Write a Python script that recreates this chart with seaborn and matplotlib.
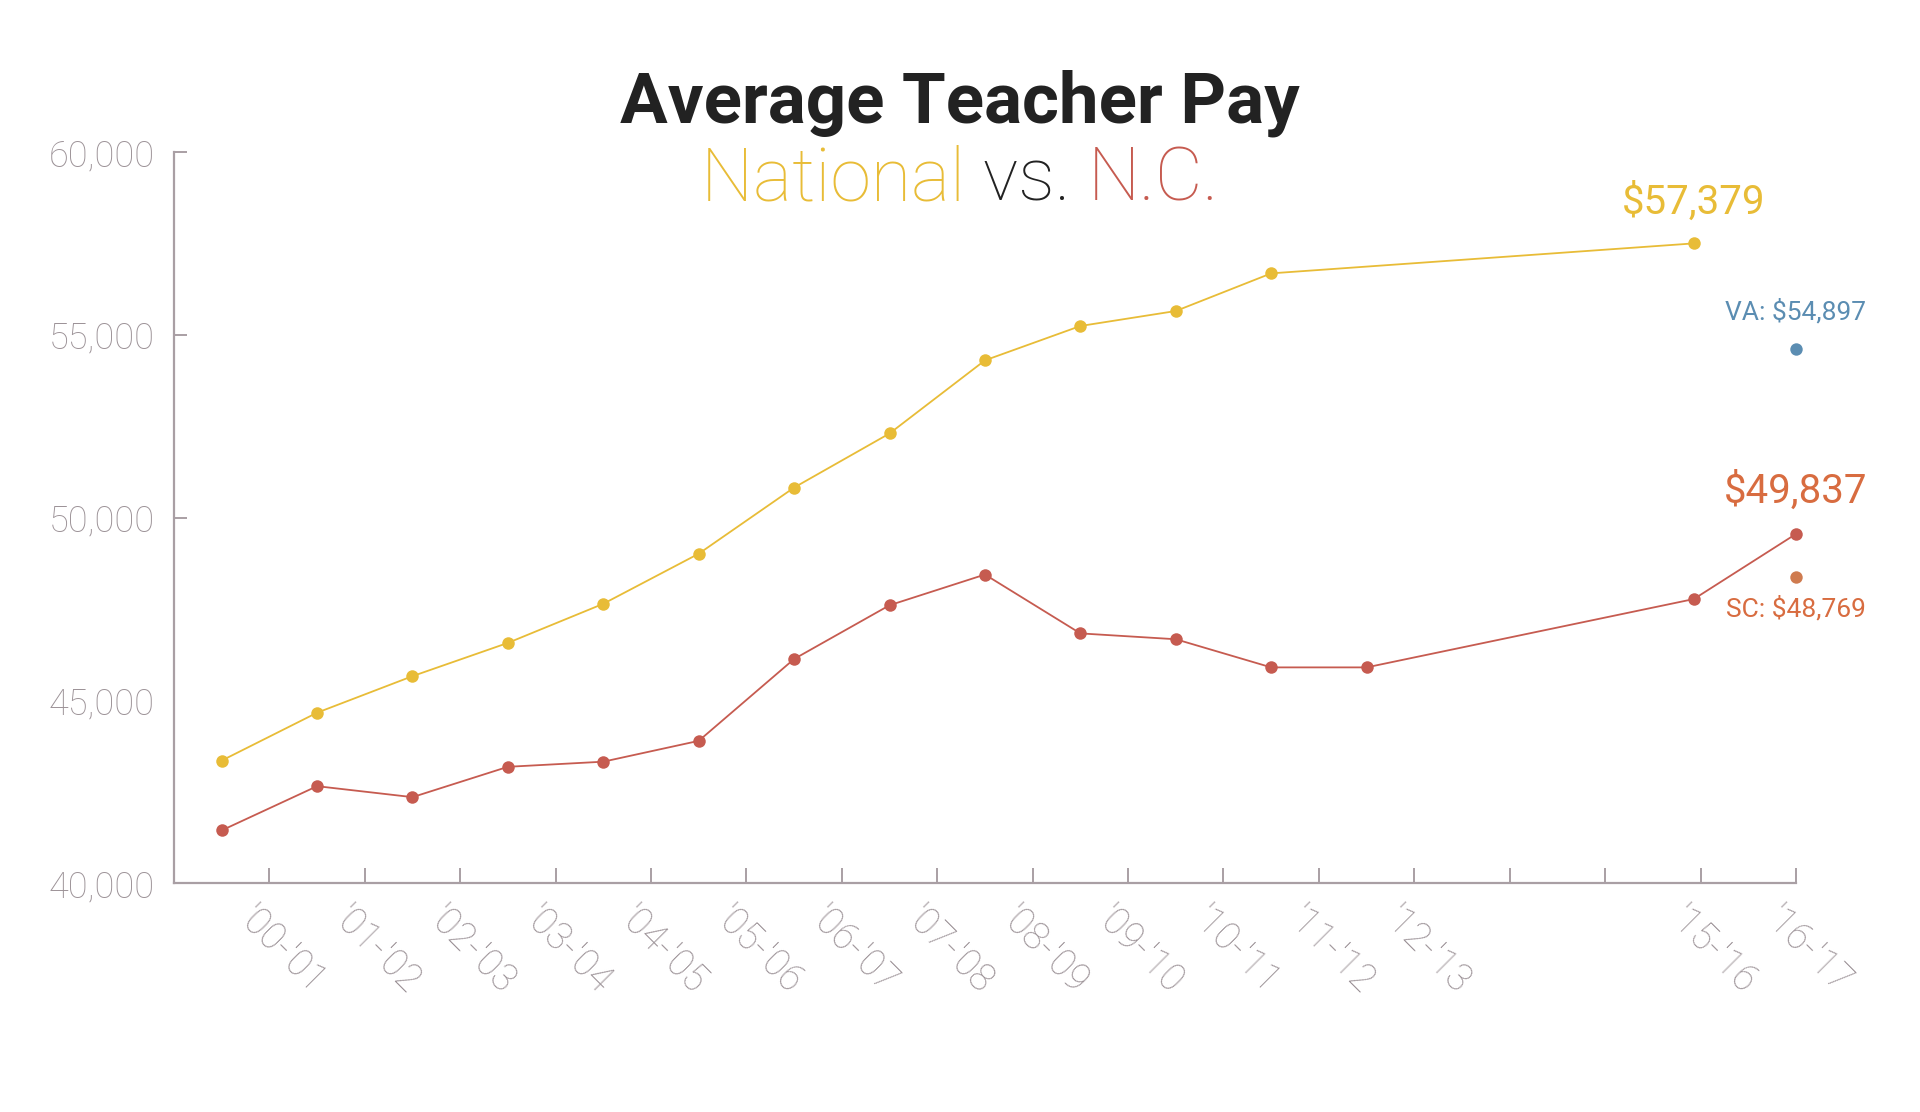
import numpy as np
import pandas as pd
import matplotlib
matplotlib.use("Agg")
import matplotlib.pyplot as plt
import matplotlib.transforms as mtransforms
import seaborn as sns
from matplotlib.offsetbox import TextArea, HPacker, AnchoredOffsetbox

# ============================================================
# Data
# ============================================================

tick_labels = ["'00-'01", "'01-'02", "'02-'03", "'03-'04", "'04-'05", "'05-'06",
               "'06-'07", "'07-'08", "'08-'09", "'09-'10", "'10-'11", "'11-'12",
               "'12-'13", "", "", "'15-'16", "'16-'17"]

# position of each season on the x axis (seasons 13/14 are missing in the source)
nat_x = [0.5, 1.5, 2.5, 3.5, 4.5, 5.5, 6.5, 7.5, 8.5, 9.5, 10.5, 11.5, 15.93]
national = [43350, 44660, 45660, 46570, 47640, 49010, 50820, 52300, 54300,
            55240, 55650, 56680, 57500]

nc_x = [0.5, 1.5, 2.5, 3.5, 4.5, 5.5, 6.5, 7.5, 8.5, 9.5, 10.5, 11.5, 12.5, 15.93, 17]
nc = [41440, 42650, 42350, 43180, 43320, 43890, 46130, 47600, 48440, 46830,
      46670, 45900, 45900, 47770, 49550]

va_x, va_val = [17], [54600]
sc_x, sc_val = [17], [48380]

YELLOW = '#E8BC37'
RED = '#C65B50'
BLUE = '#5B8DB2'
SC_DOT = '#CF7B4F'
ORANGE = '#D86C40'
GREY = '#A99FA4'
LABEL_GREY = '#9C9297'

# ============================================================
# Plot
# ============================================================

sns.set_theme(style='white')
plt.rcParams['font.family'] = ['Roboto', 'DejaVu Sans']

fig = plt.figure(figsize=(19.2, 11.12), dpi=100)
ax = fig.add_axes([0.0906, 0.2059, 0.8448, 0.6574])

df_nat = pd.DataFrame({'x': nat_x, 'pay': national})
df_nc = pd.DataFrame({'x': nc_x, 'pay': nc})

sns.lineplot(data=df_nat, x='x', y='pay', ax=ax, color=YELLOW, linewidth=1.3,
             marker='o', markersize=9, markeredgewidth=0, sort=False, clip_on=False)
sns.lineplot(data=df_nc, x='x', y='pay', ax=ax, color=RED, linewidth=1.3,
             marker='o', markersize=9, markeredgewidth=0, sort=False, clip_on=False)
sns.scatterplot(x=va_x, y=va_val, ax=ax, color=BLUE, s=80, linewidth=0, zorder=5, clip_on=False)
sns.scatterplot(x=sc_x, y=sc_val, ax=ax, color=SC_DOT, s=80, linewidth=0, zorder=5, clip_on=False)

ax.set_xlim(0, 17)
ax.set_ylim(40000, 60000)
ax.set_xlabel('')
ax.set_ylabel('')

for side in ['top', 'right']:
    ax.spines[side].set_visible(False)
for side in ['left', 'bottom']:
    ax.spines[side].set_color(GREY)
    ax.spines[side].set_linewidth(1.6)

yvals = [40000, 45000, 50000, 55000, 60000]
ax.set_yticks(yvals)
ax.set_yticklabels([f'{v:,}' for v in yvals])
ax.tick_params(axis='y', left=True, direction='in', length=9, width=1.4, color=GREY,
               labelcolor=LABEL_GREY, labelsize=26, pad=14)
for t in ax.yaxis.get_major_ticks()[:2]:
    t.tick1line.set_visible(False)
for lab in ax.get_yticklabels():
    lab.set_fontweight('light')

ax.set_xticks(np.arange(1, 18))
ax.set_xticklabels(tick_labels)
ax.tick_params(axis='x', bottom=True, direction='in', length=11, width=1.4, color=GREY,
               labelcolor=LABEL_GREY, labelsize=27, pad=12)
shift = mtransforms.ScaledTranslation(-9 / 72, 0, fig.dpi_scale_trans)
for lab in ax.get_xticklabels():
    lab.set_rotation(-45)
    lab.set_rotation_mode('anchor')
    lab.set_ha('left')
    lab.set_va('top')
    lab.set_fontweight('light')
    lab.set_transform(lab.get_transform() + shift)

# value callouts
ax.annotate('$57,379', (nat_x[-1], national[-1]), xytext=(0, 30), textcoords='offset points',
            ha='center', va='center', color=YELLOW, fontsize=29)
ax.annotate('$49,837', (nc_x[-1], nc[-1]), xytext=(0, 31), textcoords='offset points',
            ha='center', va='center', color=ORANGE, fontsize=29)
ax.annotate('VA: $54,897', (va_x[0], va_val[0]), xytext=(0, 27), textcoords='offset points',
            ha='center', va='center', color=BLUE, fontsize=19)
ax.annotate('SC: $48,769', (sc_x[0], sc_val[0]), xytext=(0, -23), textcoords='offset points',
            ha='center', va='center', color=ORANGE, fontsize=19)

# title
fig.text(0.5, 0.890, 'Average Teacher Pay', ha='center', va='baseline',
         fontsize=51, fontweight='bold', color='#222222')

sub_props = dict(fontsize=53, fontweight='light')
parts = [TextArea('National ', textprops=dict(color=YELLOW, **sub_props)),
         TextArea('vs. ', textprops=dict(color='#222222', **sub_props)),
         TextArea('N.C.', textprops=dict(color=RED, **sub_props))]
box = HPacker(children=parts, align='baseline', pad=0, sep=0)
anchored = AnchoredOffsetbox(loc='center', child=box, pad=0, frameon=False,
                             bbox_to_anchor=(0.5, 0.838), bbox_transform=fig.transFigure,
                             borderpad=0)
fig.add_artist(anchored)

fig.savefig('out.png', dpi=100, facecolor='white')
